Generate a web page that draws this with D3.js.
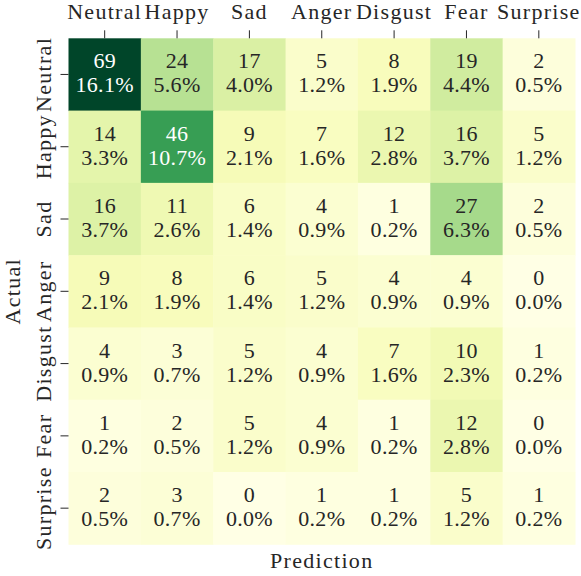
<!DOCTYPE html>
<html><head><meta charset="utf-8">
<script src="https://cdn.jsdelivr.net/npm/d3@7"></script>
<style>body{margin:0;background:#fff}svg{display:block}text{font-family:"Liberation Serif",serif;fill:#262626}</style>
</head><body><svg id="c" width="581" height="576"></svg>
<script>
const categories = ["Neutral","Happy","Sad","Anger","Disgust","Fear","Surprise"];
const counts = [
  [69,24,17,5,8,19,2],
  [14,46,9,7,12,16,5],
  [16,11,6,4,1,27,2],
  [9,8,6,5,4,4,0],
  [4,3,5,4,7,10,1],
  [1,2,5,4,1,12,0],
  [2,3,0,1,1,5,1]
];
const percents = [
  ["16.1%","5.6%","4.0%","1.2%","1.9%","4.4%","0.5%"],
  ["3.3%","10.7%","2.1%","1.6%","2.8%","3.7%","1.2%"],
  ["3.7%","2.6%","1.4%","0.9%","0.2%","6.3%","0.5%"],
  ["2.1%","1.9%","1.4%","1.2%","0.9%","0.9%","0.0%"],
  ["0.9%","0.7%","1.2%","0.9%","1.6%","2.3%","0.2%"],
  ["0.2%","0.5%","1.2%","0.9%","0.2%","2.8%","0.0%"],
  ["0.5%","0.7%","0.0%","0.2%","0.2%","1.2%","0.2%"]
];
const xTitle = "Prediction", yTitle = "Actual";

const svg = d3.select("#c");
const L = 68.5, T = 38.3, W = 506.5, H = 506;
const FS = 22, LS = "1.3px";
const x = d3.scaleBand().domain(categories).range([L, L+W]);
const y = d3.scaleBand().domain(categories).range([T, T+H]);
const ylgn = ["#ffffe5","#f7fcb9","#d9f0a3","#addd8e","#78c679","#41ab5d","#238443","#006837","#004529"];
const vmax = d3.max(counts.flat());
const color = d3.scaleLinear().domain(ylgn.map((d,i)=>i/(ylgn.length-1)*vmax)).range(ylgn).interpolate(d3.interpolateRgb);

const cells = [];
counts.forEach((row,i)=>row.forEach((v,j)=>cells.push({r:categories[i],c:categories[j],v,p:percents[i][j]})));

svg.append("g").selectAll("rect").data(cells).join("rect")
  .attr("x",d=>x(d.c)).attr("y",d=>y(d.r))
  .attr("width",x.bandwidth()+0.5).attr("height",y.bandwidth()+0.5)
  .attr("fill",d=>color(d.v));

const lab = svg.append("g").selectAll("g").data(cells).join("g")
  .attr("transform",d=>`translate(${x(d.c)+x.bandwidth()/2},${y(d.r)+y.bandwidth()/2})`);
lab.append("text").attr("text-anchor","middle").attr("y",-6).attr("font-size",FS).style("letter-spacing","0.3px")
  .style("fill",d=>d.v>vmax*0.6?"#ffffff":"#262626").text(d=>d.v);
lab.append("text").attr("text-anchor","middle").attr("y",18).attr("font-size",FS).style("letter-spacing","0.3px")
  .style("fill",d=>d.v>vmax*0.6?"#ffffff":"#262626").text(d=>d.p);

const xAxis = svg.append("g").attr("transform",`translate(0,${T})`)
  .call(d3.axisTop(x).tickSize(8).tickPadding(11));
xAxis.select(".domain").remove();
xAxis.selectAll("line").attr("stroke","#262626").attr("stroke-width",1);
xAxis.selectAll("text").attr("font-size",FS).attr("font-family","Liberation Serif").style("fill","#262626").style("letter-spacing",LS);

const yAxis = svg.append("g").attr("transform",`translate(${L},0)`)
  .call(d3.axisLeft(y).tickSize(8).tickPadding(10));
yAxis.select(".domain").remove();
yAxis.selectAll("line").attr("stroke","#262626").attr("stroke-width",1);
yAxis.selectAll("text").attr("font-size",FS).attr("font-family","Liberation Serif").style("fill","#262626").style("letter-spacing",LS)
  .attr("text-anchor","middle").attr("x",null).attr("dy",null)
  .attr("transform","translate(-18,0) rotate(-90)");

svg.append("text").attr("x",L+W/2).attr("y",568).attr("text-anchor","middle").attr("font-size",FS).style("letter-spacing",LS).text(xTitle);
svg.append("text").attr("transform",`translate(19.5,${T+H/2}) rotate(-90)`).attr("text-anchor","middle").attr("font-size",FS).style("letter-spacing",LS).text(yTitle);
</script></body></html>
